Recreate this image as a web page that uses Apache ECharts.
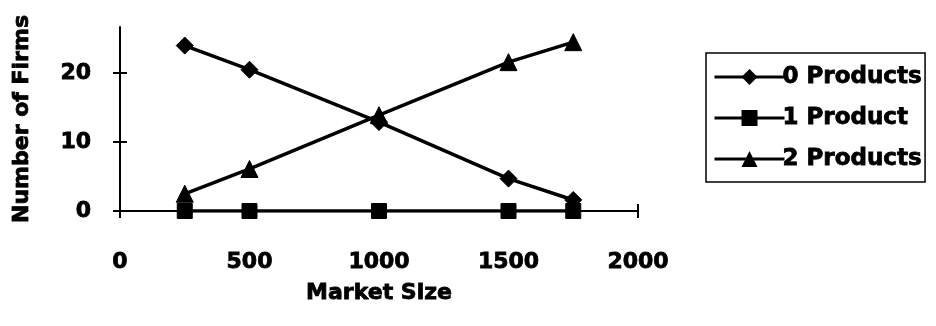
<!DOCTYPE html>
<html>
<head>
<meta charset="utf-8">
<script src="https://cdn.jsdelivr.net/npm/echarts@6/dist/echarts.min.js"></script>
<style>
  html, body { margin: 0; padding: 0; background: #fff; }
  #chart { width: 936px; height: 326px; }
</style>
</head>
<body>
<div id="chart"></div>
<script>
// Market sizes sampled and number of firms by product count
const marketSize = [250, 500, 1000, 1500, 1750];
const zeroProducts = [24.0, 20.5, 12.9, 4.7, 1.6];
const oneProduct = [0, 0, 0, 0, 0];
const twoProducts = [2.5, 6.1, 13.9, 21.6, 24.5];
const yTickValues = [0, 10, 20];

const FONT = 'DejaVu Sans';
const INK = '#000';

function pairs(xs, ys) {
  return xs.map((x, i) => [x, ys[i]]);
}

function lineSeries(name, ys, symbol, size) {
  return {
    name: name,
    type: 'line',
    data: pairs(marketSize, ys),
    symbol: symbol,
    symbolSize: size,
    lineStyle: { color: INK, width: 3.5 },
    itemStyle: { color: INK, borderColor: INK },
    emphasis: { disabled: true },
    animation: false
  };
}

// heavy black lettering: bold face plus a thin outline of the same ink
const labelStyle = {
  fontFamily: FONT, fontWeight: 'bold', fontSize: 22, color: INK,
  textBorderColor: INK, textBorderWidth: 0.8
};

const chart = echarts.init(document.getElementById('chart'), null, { renderer: 'canvas' });
chart.setOption({
  backgroundColor: '#fff',
  animation: false,
  grid: { left: 120, right: 298, top: 27, bottom: 115, containLabel: false },
  xAxis: [
    {
      type: 'value', min: 0, max: 2000, interval: 500,
      position: 'bottom',
      name: 'Market Size', nameLocation: 'middle', nameGap: 71,
      nameTextStyle: labelStyle,
      axisLine: { show: true, onZero: false, lineStyle: { color: INK, width: 2 } },
      axisTick: { show: true, inside: false, length: 7, lineStyle: { color: INK, width: 2 } },
      axisLabel: Object.assign({ margin: 40, formatter: v => String(v) }, labelStyle),
      splitLine: { show: false }
    },
    {
      type: 'value', min: 0, max: 2000, interval: 500,
      position: 'bottom',
      axisLine: { show: false },
      axisTick: { show: true, inside: true, length: 7, lineStyle: { color: INK, width: 2 } },
      axisLabel: { show: false },
      splitLine: { show: false }
    }
  ],
  yAxis: [
    {
      type: 'value', min: 0, max: 26.7, interval: 10,
      position: 'left',
      name: 'Number of Firms', nameLocation: 'middle', nameGap: 87,
      nameRotate: 90,
      nameTextStyle: labelStyle,
      axisLine: { show: true, onZero: false, lineStyle: { color: INK, width: 2 } },
      axisTick: { show: true, inside: false, length: 7, customValues: yTickValues, lineStyle: { color: INK, width: 2 } },
      axisLabel: Object.assign({ margin: 29, customValues: yTickValues }, labelStyle),
      splitLine: { show: false }
    },
    {
      type: 'value', min: 0, max: 26.7, interval: 10,
      position: 'left',
      axisLine: { show: false },
      axisTick: { show: true, inside: true, length: 7, customValues: yTickValues, lineStyle: { color: INK, width: 2 } },
      axisLabel: { show: false },
      splitLine: { show: false }
    }
  ],
  legend: {
    orient: 'vertical',
    left: 706, top: 53,
    padding: [11, 3, 10, 7],
    itemGap: 15,
    itemWidth: 70,
    itemHeight: 20,
    borderColor: INK,
    borderWidth: 1.5,
    lineStyle: { width: 3, color: INK },
    textStyle: Object.assign({}, labelStyle, { fontSize: 23, lineHeight: 26, padding: [0, 0, 0, -7] }),
    data: ['0 Products', '1 Product', '2 Products']
  },
  series: [
    lineSeries('1 Product', oneProduct, 'rect', 15),
    lineSeries('2 Products', twoProducts, 'triangle', 17),
    lineSeries('0 Products', zeroProducts, 'diamond', 17)
  ]
});
</script>
</body>
</html>
